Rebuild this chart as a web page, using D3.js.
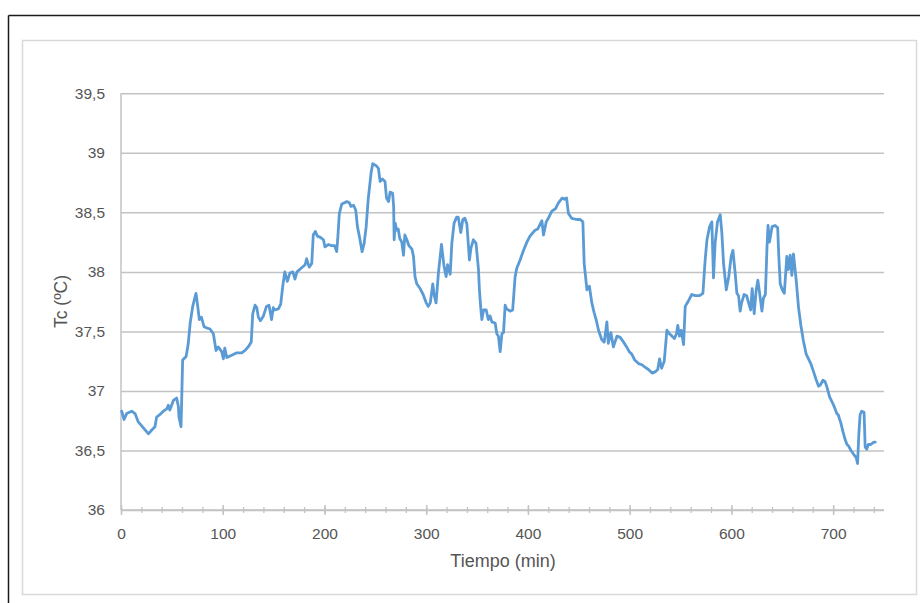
<!DOCTYPE html>
<html>
<head>
<meta charset="utf-8">
<script src="https://cdn.jsdelivr.net/npm/d3@7"></script>
<style>
  html, body { margin: 0; padding: 0; background: #fff; }
  svg { display: block; }
  text { font-family: "Liberation Sans", Arial, sans-serif; fill: #555555; }
</style>
</head>
<body>
<svg id="chart" width="920" height="603"></svg>
<script>
// ---- data ----
const timeMin = [0.7,3,5.6,10.5,13.8,17,22,27,30,33.4,35,38,41.6,45,46.5,48,51.5,54.7,56.4,57,59,60.6,64,66,68,70.5,73.7,75,77,79,81.6,84,87.5,90.8,93.4,95.5,99,100.6,102,104,108.8,113.7,118.7,122,125,128,129.5,131.8,133.5,135,137,140,143,145.5,148,149.7,151,154.7,157,159,161,163.5,166,169,171,173,177,181,182.5,185,187.5,189,191,193,196,199,200.5,204,207,210,212,213,214.6,217,222,224.5,226,228.6,230.7,232.4,234.3,237,239,241,243,245.8,247.5,251,253,254.7,257,259.5,261,263,264.5,267,268,268.5,269.5,271,272.5,274,276,277.7,279,281,283,286,287.5,289,290.7,294,297,300,302,304,306.5,307.7,309.7,312,315,317.5,319.6,321,323.6,325.2,327.4,330,331.5,334,336,338,340,342.5,344,346.4,349,351.4,352.3,353.7,354.7,356.4,359,361,362.8,364.5,367.8,369.4,371,372.7,374.4,376,377.6,379,382.5,385,387.4,389,392.3,395.6,399,402,407,409.6,413.7,415.3,418,420,423.5,427,430,433.6,436,438,439.8,443,448,451.5,454,455.3,458,460.4,462.8,465,467,469.4,472.6,475,477.6,479,481.5,484,487.5,490.7,494,497,499.6,502,505,508.7,512,515,518.5,522,525,527.6,529.4,531.4,534,536.6,539,541.7,544,546,547.3,549,550.7,553,554.6,558,561,564.5,568.7,572,574.2,576,578.6,580.8,582.4,584,586.3,589,590.6,592.3,595,597.4,599.8,601.5,603.7,605.4,607,608.6,610,612.5,615,616.9,619,620.4,622.4,624.4,626,627.6,630,631.5,633.4,635,636,637.4,640,643,645.5,646.6,648,650,652,654.5,656,657.8,659.4,661,663.7,666,668.3,670.8,673.5,675.8,678,680.8,683.5,685.7,687.4,690,692,694,696.5,698.8,701,703.6,705,707.6,709.6,711.9,713.6,715,717.5,720,722.7,724,725.3,726.5,728,730.4,731.5,733,734.6,737,740,741.4];
const tempC = [36.83,36.76,36.81,36.83,36.81,36.74,36.69,36.64,36.67,36.70,36.78,36.80,36.83,36.85,36.88,36.84,36.92,36.94,36.87,36.78,36.70,37.26,37.29,37.39,37.57,37.71,37.82,37.74,37.60,37.62,37.54,37.53,37.52,37.48,37.34,37.37,37.33,37.27,37.36,37.28,37.30,37.32,37.32,37.34,37.37,37.41,37.65,37.72,37.70,37.62,37.59,37.63,37.71,37.72,37.60,37.70,37.68,37.69,37.73,37.88,38.00,37.92,37.99,38.00,37.94,38.00,38.03,38.06,38.11,38.04,38.07,38.31,38.34,38.30,38.29,38.27,38.21,38.23,38.22,38.22,38.17,38.27,38.49,38.57,38.59,38.58,38.55,38.56,38.52,38.38,38.30,38.17,38.24,38.38,38.61,38.83,38.91,38.89,38.87,38.76,38.78,38.76,38.62,38.59,38.67,38.66,38.55,38.27,38.41,38.35,38.36,38.28,38.25,38.14,38.31,38.27,38.22,38.19,38.13,37.96,37.90,37.86,37.81,37.74,37.71,37.74,37.90,37.81,37.74,37.99,38.23,38.05,37.96,38.06,37.98,38.24,38.41,38.46,38.46,38.33,38.44,38.45,38.40,38.10,38.20,38.27,38.24,38.02,37.85,37.69,37.60,37.68,37.68,37.60,37.63,37.58,37.57,37.48,37.46,37.33,37.48,37.49,37.72,37.69,37.67,37.68,37.96,38.03,38.10,38.18,38.25,38.30,38.35,38.36,38.43,38.31,38.42,38.45,38.51,38.53,38.58,38.62,38.61,38.62,38.49,38.45,38.44,38.44,38.42,38.07,37.85,37.88,37.74,37.66,37.60,37.51,37.43,37.41,37.58,37.40,37.49,37.37,37.46,37.45,37.41,37.37,37.33,37.31,37.26,37.23,37.22,37.20,37.18,37.15,37.16,37.18,37.27,37.19,37.25,37.51,37.48,37.46,37.44,37.48,37.55,37.46,37.51,37.39,37.71,37.76,37.81,37.80,37.80,37.82,38.10,38.27,38.38,38.42,37.95,38.24,38.42,38.48,38.33,38.07,37.85,37.96,38.13,38.18,37.99,37.82,37.80,37.67,37.74,37.81,37.80,37.74,37.68,37.86,37.65,37.85,37.93,37.83,37.67,37.78,37.81,38.21,38.39,38.25,38.38,38.39,38.37,38.13,37.90,37.85,37.82,38.13,38.02,38.14,37.97,38.15,37.93,37.70,37.55,37.42,37.31,37.27,37.23,37.16,37.09,37.04,37.05,37.09,37.08,37.03,36.95,36.91,36.87,36.81,36.80,36.73,36.66,36.59,36.55,36.54,36.50,36.47,36.44,36.39,36.64,36.80,36.83,36.82,36.53,36.51,36.55,36.55,36.57,36.57];
const yTickValues = [36, 36.5, 37, 37.5, 38, 38.5, 39, 39.5];
const xMajorTicks = [0, 100, 200, 300, 400, 500, 600, 700];
const xMinorTicks = d3.range(0, 741, 20);
const xTitle = "Tiempo (min)";
const yTitle = "Tc (ºC)";

// ---- layout ----
const svg = d3.select("#chart");
const plotLeft = 121, plotRight = 884, plotTop = 93.3, plotBottom = 510;

// outer frame
svg.append("line").attr("x1", 8.5).attr("x2", 920).attr("y1", 15.5).attr("y2", 15.5)
  .attr("stroke", "#1a1a1a").attr("stroke-width", 1.5);
svg.append("line").attr("x1", 8.5).attr("x2", 8.5).attr("y1", 15.5).attr("y2", 603)
  .attr("stroke", "#1a1a1a").attr("stroke-width", 1.5);
svg.append("rect").attr("x", 22.5).attr("y", 40.5).attr("width", 894).attr("height", 554)
  .attr("fill", "#fff").attr("stroke", "#d9d9d9").attr("stroke-width", 1.5);

const x = d3.scaleLinear().domain([0, 750]).range([plotLeft, plotRight]);
const y = d3.scaleLinear().domain([36, 39.5]).range([plotBottom, plotTop]);

const fmt = v => String(v).replace(".", ",");

// gridlines + y labels
const yAxis = d3.axisLeft(y).tickValues(yTickValues).tickSize(-(plotRight - plotLeft)).tickPadding(16).tickFormat(fmt);
const gy = svg.append("g").attr("transform", `translate(${plotLeft},0)`).call(yAxis);
gy.select(".domain").remove();
gy.selectAll(".tick line").attr("stroke", "#c3c3c3").attr("stroke-width", 1.5);
gy.selectAll(".tick text").attr("font-size", 15.5).attr("fill", "#555555")
  .attr("font-family", "Liberation Sans, Arial, sans-serif");

// y axis line
svg.append("line").attr("x1", plotLeft).attr("x2", plotLeft).attr("y1", plotTop).attr("y2", plotBottom)
  .attr("stroke", "#c3c3c3").attr("stroke-width", 1.5);

// x axis: minor ticks
const xMinor = d3.axisBottom(x).tickValues(xMinorTicks).tickSize(3).tickFormat("");
const gxm = svg.append("g").attr("transform", `translate(0,${plotBottom})`).call(xMinor);
gxm.select(".domain").attr("d", `M${plotLeft},0H${plotRight}`).attr("stroke", "#c3c3c3").attr("stroke-width", 1.5);
gxm.selectAll(".tick line").attr("y1", -3).attr("y2", 3).attr("stroke", "#c3c3c3").attr("stroke-width", 1.3);

// x axis: major ticks + labels
const xMajor = d3.axisBottom(x).tickValues(xMajorTicks).tickSize(5).tickPadding(13).tickFormat(d3.format("d"));
const gx = svg.append("g").attr("transform", `translate(0,${plotBottom})`).call(xMajor);
gx.select(".domain").remove();
gx.selectAll(".tick line").attr("y1", -5).attr("y2", 5).attr("stroke", "#c3c3c3").attr("stroke-width", 1.5);
gx.selectAll(".tick text").attr("font-size", 15.5).attr("fill", "#555555")
  .attr("font-family", "Liberation Sans, Arial, sans-serif");

// line
const data = timeMin.map((t, i) => ({ t, v: tempC[i] }));
const line = d3.line().x(d => x(d.t)).y(d => y(d.v));
svg.append("path").datum(data).attr("d", line)
  .attr("fill", "none").attr("stroke", "#5b9bd5").attr("stroke-width", 2.8)
  .attr("stroke-linejoin", "round").attr("stroke-linecap", "round");

// titles
svg.append("text").attr("x", 503).attr("y", 567).attr("text-anchor", "middle")
  .attr("font-size", 18).text(xTitle);
svg.append("text").attr("transform", "translate(67,301.5) rotate(-90)").attr("text-anchor", "middle")
  .attr("font-size", 17.5).text(yTitle);
</script>
</body>
</html>
